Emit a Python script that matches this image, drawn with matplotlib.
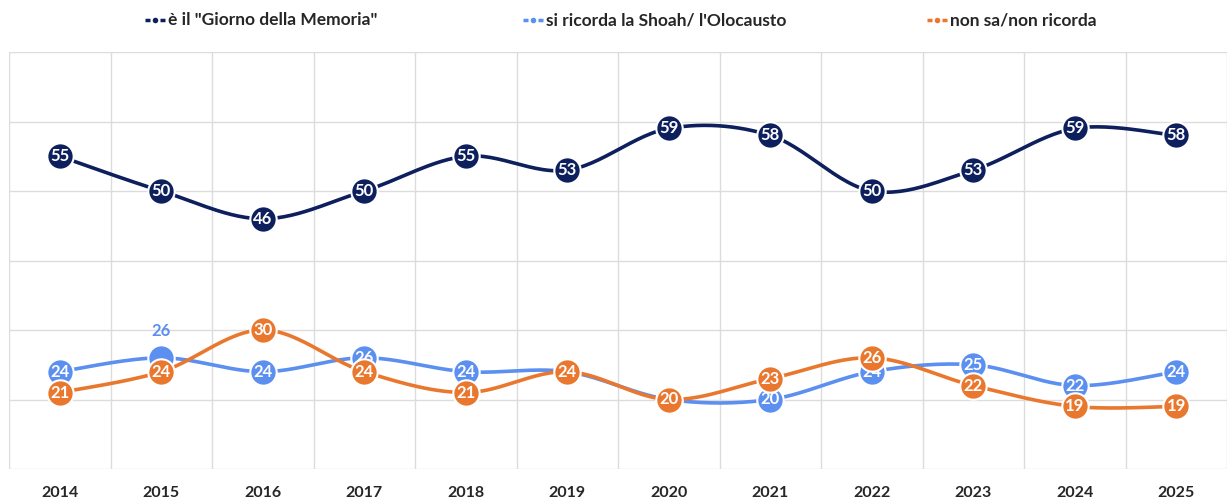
import numpy as np
import matplotlib.pyplot as plt
from matplotlib.lines import Line2D

# Data
years = ["2014", "2015", "2016", "2017", "2018", "2019",
         "2020", "2021", "2022", "2023", "2024", "2025"]
giorno = [55, 50, 46, 50, 55, 53, 59, 58, 50, 53, 59, 58]
shoah = [24, 26, 24, 26, 24, 24, 20, 20, 24, 25, 22, 24]
non_sa = [21, 24, 30, 24, 21, 24, 20, 23, 26, 22, 19, 19]

labels = ['è il "Giorno della Memoria"', "si ricorda la Shoah/ l'Olocausto", "non sa/non ricorda"]
colors = ["#0d1f5c", "#5b8ff0", "#e9782e"]

plt.rcParams['font.family'] = ['Lato', 'DejaVu Sans']


# Catmull-Rom style smoothing like Excel's "smoothed line" (drawing only)
def smooth(xs, ys, n=30):
    px = np.asarray(xs, float)
    py = np.asarray(ys, float)
    px = np.concatenate([[px[0]], px, [px[-1]]])
    py = np.concatenate([[py[0]], py, [py[-1]]])
    out_x, out_y = [], []
    t = np.linspace(0, 1, n)
    for i in range(1, len(px) - 2):
        p0, p1, p2, p3 = [np.array([px[j], py[j]]) for j in (i - 1, i, i + 1, i + 2)]
        c1 = p1 + (p2 - p0) / 6
        c2 = p2 - (p3 - p1) / 6
        b = ((1 - t) ** 3)[:, None] * p1 + (3 * (1 - t) ** 2 * t)[:, None] * c1 \
            + (3 * (1 - t) * t ** 2)[:, None] * c2 + (t ** 3)[:, None] * p2
        out_x.extend(b[:, 0])
        out_y.extend(b[:, 1])
    return out_x, out_y


fig = plt.figure(figsize=(12.27, 5.01), dpi=100)
ax = fig.add_axes([9 / 1227, 32 / 501, 1 - 9 / 1227, 417 / 501])

x = np.arange(len(years))
series = [giorno, shoah, non_sa]
for k, (vals, col) in enumerate(zip(series, colors)):
    sx, sy = smooth(x, vals)
    ax.plot(sx, sy, color=col, lw=2.6, zorder=2 + k * 2, solid_capstyle='round')
    ax.plot(x, vals, 'o', ms=19, color=col, mec='white', mew=1.5, zorder=3 + k * 2)
    for xi, v in zip(x, vals):
        if k == 1 and xi == 1:
            # label moved above the marker in the original
            ax.text(xi, v + 3.8, str(v), color=col, ha='center', va='center',
                    fontsize=12, fontweight='bold', zorder=20)
        else:
            ax.text(xi, v, str(v), color='white', ha='center', va='center',
                    fontsize=12, fontweight='bold', zorder=3 + k * 2)

ax.set_xlim(-0.5, len(years) - 0.5)
ax.set_ylim(10, 70)
ax.set_xticks(x)
ax.set_xticklabels(years, fontsize=11.5, fontweight='bold', color='#262626')
ax.set_xticks(np.arange(-0.5, len(years), 1), minor=True)
ax.set_yticks(np.arange(10, 71, 10))
ax.tick_params(axis='both', which='both', length=0)
ax.tick_params(axis='x', pad=12)
ax.set_yticklabels([])
ax.grid(axis='y', color='#dcdcdc', lw=1)
ax.grid(axis='x', which='minor', color='#dcdcdc', lw=1)
for s in ax.spines.values():
    s.set_visible(False)
ax.set_axisbelow(True)

# legend drawn by hand to match spacing: dash - dot - dash handle
W, H = 1227, 501
leg_x = [145, 523, 927]
y = 1 - 20 / H
for lx, lab, col in zip(leg_x, labels, colors):
    for a, b in ((lx, lx + 5), (lx + 15, lx + 20)):
        fig.add_artist(Line2D([a / W, b / W], [y, y], color=col, lw=2.5,
                              solid_capstyle='butt', transform=fig.transFigure))
    fig.add_artist(Line2D([(lx + 10) / W], [y], marker='o', ms=4, color=col,
                          mew=0, transform=fig.transFigure))
    fig.text((lx + 23) / W, y, lab, ha='left', va='center', fontsize=12.5,
             fontweight='bold', color='#262626')

fig.savefig("out.png", dpi=100)
